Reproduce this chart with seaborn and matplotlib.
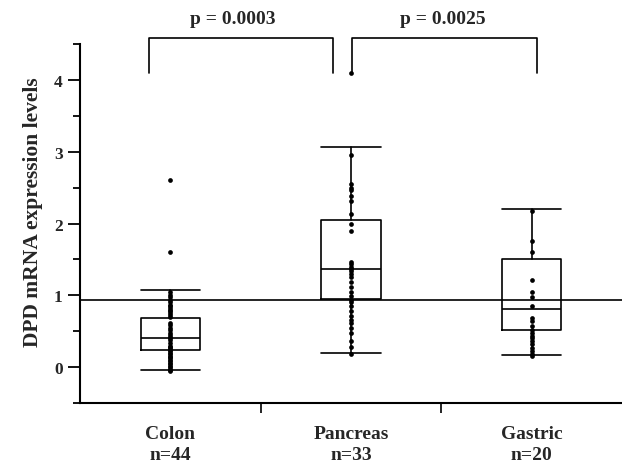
import pandas as pd
import matplotlib
matplotlib.use('Agg')
import matplotlib.pyplot as plt
import seaborn as sns
from matplotlib.ticker import MultipleLocator, FixedLocator

# =============================================================================
# Data
# =============================================================================

groups = ['Colon', 'Pancreas', 'Gastric']
group_n = [44, 33, 20]

colon_vals = [2.61, 1.61, 1.05, 1.0, 0.97, 0.93, 0.9, 0.87, 0.85, 0.82, 0.8,
              0.78, 0.75, 0.72, 0.7, 0.62, 0.58, 0.55, 0.52, 0.48, 0.45, 0.42,
              0.4, 0.38, 0.33, 0.3, 0.28, 0.26, 0.24, 0.22, 0.2, 0.18, 0.16,
              0.14, 0.12, 0.1, 0.08, 0.06, 0.04, 0.02, 0.0, -0.02, -0.04, -0.05]
pancreas_vals = [4.09, 2.95, 2.55, 2.5, 2.46, 2.39, 2.32, 2.13, 1.99, 1.9,
                 1.46, 1.43, 1.4, 1.37, 1.34, 1.3, 1.25, 1.18, 1.11, 1.05,
                 0.99, 0.94, 0.9, 0.85, 0.78, 0.71, 0.66, 0.62, 0.55, 0.48,
                 0.36, 0.28, 0.18]
gastric_vals = [2.18, 1.76, 1.6, 1.22, 1.04, 0.97, 0.85, 0.69, 0.64, 0.57,
                0.52, 0.48, 0.44, 0.4, 0.36, 0.32, 0.27, 0.22, 0.18, 0.15]

# box summaries as drawn (whiskers are not 1.5 IQR, so take them from the picture)
box_q1 = [0.24, 0.95, 0.52]
box_med = [0.405, 1.365, 0.805]
box_q3 = [0.69, 2.05, 1.50]
box_lo = [-0.04, 0.20, 0.17]
box_hi = [1.07, 3.07, 2.20]

cutoff = 0.94
p_labels = ['p = 0.0003', 'p = 0.0025']

# long dataframe for seaborn
df = pd.DataFrame({
    'group': ['Colon'] * len(colon_vals) + ['Pancreas'] * len(pancreas_vals)
             + ['Gastric'] * len(gastric_vals),
    'value': colon_vals + pancreas_vals + gastric_vals,
})

# =============================================================================
# Plot
# =============================================================================

sns.set_theme(style='white')
plt.rcParams['font.family'] = ['Liberation Serif', 'DejaVu Serif']
plt.rcParams['font.weight'] = 'bold'

fig = plt.figure(figsize=(6.22, 4.64), dpi=100)
ax = fig.add_axes([0.1286, 0.1293, 0.8714, 0.7737])

# reference line behind everything
ax.axhline(cutoff, color='black', lw=1.2, zorder=1)

# the dots, all on the group centre
sns.stripplot(data=df, x='group', y='value', order=groups, jitter=False,
              color='black', size=3.4, linewidth=0, ax=ax, zorder=3)

# the boxes
stats = []
for i, g in enumerate(groups):
    stats.append(dict(label=g, q1=box_q1[i], med=box_med[i], q3=box_q3[i],
                      whislo=box_lo[i], whishi=box_hi[i], fliers=[]))
line_kw = dict(color='black', lw=1.2)
ax.bxp(stats, positions=[0, 1, 2], widths=0.33, capwidths=0.33,
       showfliers=False, manage_ticks=False,
       boxprops=line_kw, medianprops=line_kw,
       whiskerprops=line_kw, capprops=line_kw)

ax.set_xlim(-0.5, 2.5)
ax.set_ylim(-0.5, 4.5)

# brackets with p values (sit above the axis top)
brackets = [(-0.12, 0.898), (1.005, 2.03)]
for (x0, x1), lab, xt in zip(brackets, p_labels, [0.343, 1.51]):
    ax.plot([x0, x0, x1, x1], [4.10, 4.587, 4.587, 4.10], color='black',
            lw=1.2, clip_on=False)
    ax.text(xt, 4.86, lab, ha='center', va='center', fontsize=14,
            fontweight='bold', clip_on=False)

# axes styling
sns.despine(ax=ax)
for side in ['left', 'bottom']:
    ax.spines[side].set_linewidth(1.5)
    ax.spines[side].set_color('black')

ax.yaxis.set_major_locator(MultipleLocator(1))
ax.yaxis.set_minor_locator(FixedLocator([-0.5, 0.5, 1.5, 2.5, 3.5, 4.5]))
ax.tick_params(axis='y', which='major', left=True, length=8.5, width=1.3,
               direction='out', labelsize=12.5, pad=4, color='black')
ax.tick_params(axis='y', which='minor', left=True, length=5, width=1.3,
               direction='out', color='black')
for t in ax.get_yticklabels():
    t.set_fontweight('bold')

ax.set_xticks([0, 1, 2])
ax.set_xticklabels([f'{g}\nn={n}' for g, n in zip(groups, group_n)],
                   fontsize=14, fontweight='bold', linespacing=1.3)
ax.xaxis.set_minor_locator(FixedLocator([0.5, 1.5]))
ax.tick_params(axis='x', which='major', bottom=True, length=0, pad=16)
ax.tick_params(axis='x', which='minor', bottom=True, length=7, width=1.2,
               direction='out', color='black')

ax.set_xlabel('')
ax.set_ylabel('DPD mRNA expression levels', fontsize=15.5, fontweight='bold',
              labelpad=8)
ax.yaxis.label.set_y(0.535)

plt.savefig('out.png', dpi=100)
